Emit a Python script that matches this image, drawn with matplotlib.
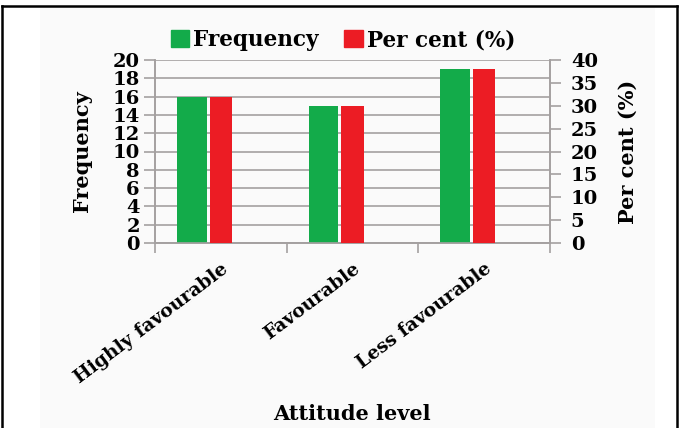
import matplotlib
matplotlib.use("Agg")
import matplotlib.pyplot as plt
from matplotlib.patches import Patch, Rectangle
from matplotlib.lines import Line2D
import numpy as np

categories = ["Highly favourable", "Favourable", "Less favourable"]
frequency = [16, 15, 19]
percent = [32, 30, 38]
left_ticks = list(range(0, 21, 2))
right_ticks = list(range(0, 41, 5))

GREEN = "#13AB4A"
RED = "#EC1C24"
GRID = "#A4A0A0"
FONT = "DejaVu Serif"

W, H = 681, 428
fig = plt.figure(figsize=(W / 100, H / 100), dpi=100)
fig.patch.set_facecolor("white")

# chart area light background and outer frame
fig.add_artist(Rectangle((40 / W, 0), (655 - 40) / W, 1 - 7 / H, transform=fig.transFigure,
                         facecolor="#FAFAFA", edgecolor="none", zorder=0))
fig.add_artist(Line2D([2 / W, 2 / W], [0, 1 - 6 / H], transform=fig.transFigure, color="black", lw=1.8))
fig.add_artist(Line2D([677 / W, 677 / W], [0, 1 - 6 / H], transform=fig.transFigure, color="black", lw=1.8))
fig.add_artist(Line2D([2 / W, 677 / W], [1 - 6 / H, 1 - 6 / H], transform=fig.transFigure, color="black", lw=1.8))

left, right, bottom, top = 155, 550, 243, 60
ax = fig.add_axes([left / W, 1 - bottom / H, (right - left) / W, (bottom - top) / H])
ax.set_facecolor("none")
ax2 = ax.twinx()

x = np.arange(len(categories))
ax.bar(x - 0.22, frequency, width=0.225, color=GREEN, zorder=3)
ax2.bar(x, percent, width=0.17, color=RED, zorder=3)

ax.set_xlim(-0.5, 2.5)
ax.set_ylim(0, 20)
ax2.set_ylim(0, 40)
ax.set_yticks(left_ticks)
ax2.set_yticks(right_ticks)
ax.yaxis.grid(True, color=GRID, lw=1.2, zorder=0)
ax.set_axisbelow(True)

for a in (ax, ax2):
    a.spines["top"].set_visible(False)
    for s in ("left", "right", "bottom"):
        a.spines[s].set_color(GRID)
        a.spines[s].set_linewidth(1.2)

ax.set_xticks(x)
ax.set_xticklabels(categories, rotation=37, ha="right", rotation_mode="anchor",
                   fontfamily=FONT, fontweight="bold", fontsize=13.5)
ax.tick_params(axis="x", which="major", length=0, pad=12)
ax.set_xticks([-0.5, 0.5, 1.5, 2.5], minor=True)
ax.tick_params(axis="x", which="minor", length=7, color=GRID, width=1.2, direction="out")

ax.tick_params(axis="y", length=8, color=GRID, width=1.2, pad=3)
ax2.tick_params(axis="y", length=8, color=GRID, width=1.2, pad=7)
for lab in ax.get_yticklabels() + ax2.get_yticklabels():
    lab.set_fontfamily(FONT)
    lab.set_fontweight("bold")
    lab.set_fontsize(14)

ax.set_ylabel("Frequency", fontfamily=FONT, fontweight="bold", fontsize=15, labelpad=15)
ax2.set_ylabel("Per cent (%)", fontfamily=FONT, fontweight="bold", fontsize=15, labelpad=14)
fig.text(352 / W, 1 - 414 / H, "Attitude level", ha="center", va="center",
         fontfamily=FONT, fontweight="bold", fontsize=15)

handles = [Patch(color=GREEN, label="Frequency"), Patch(color=RED, label="Per cent (%)")]
fig.legend(handles=handles, loc="center", bbox_to_anchor=(343 / W, 1 - 40 / H), ncol=2,
           frameon=False, handlelength=0.85, handleheight=0.85, handletextpad=0.2,
           columnspacing=1.2, prop={"family": FONT, "weight": "bold", "size": 15.5})

fig.savefig("out.png", dpi=100)
